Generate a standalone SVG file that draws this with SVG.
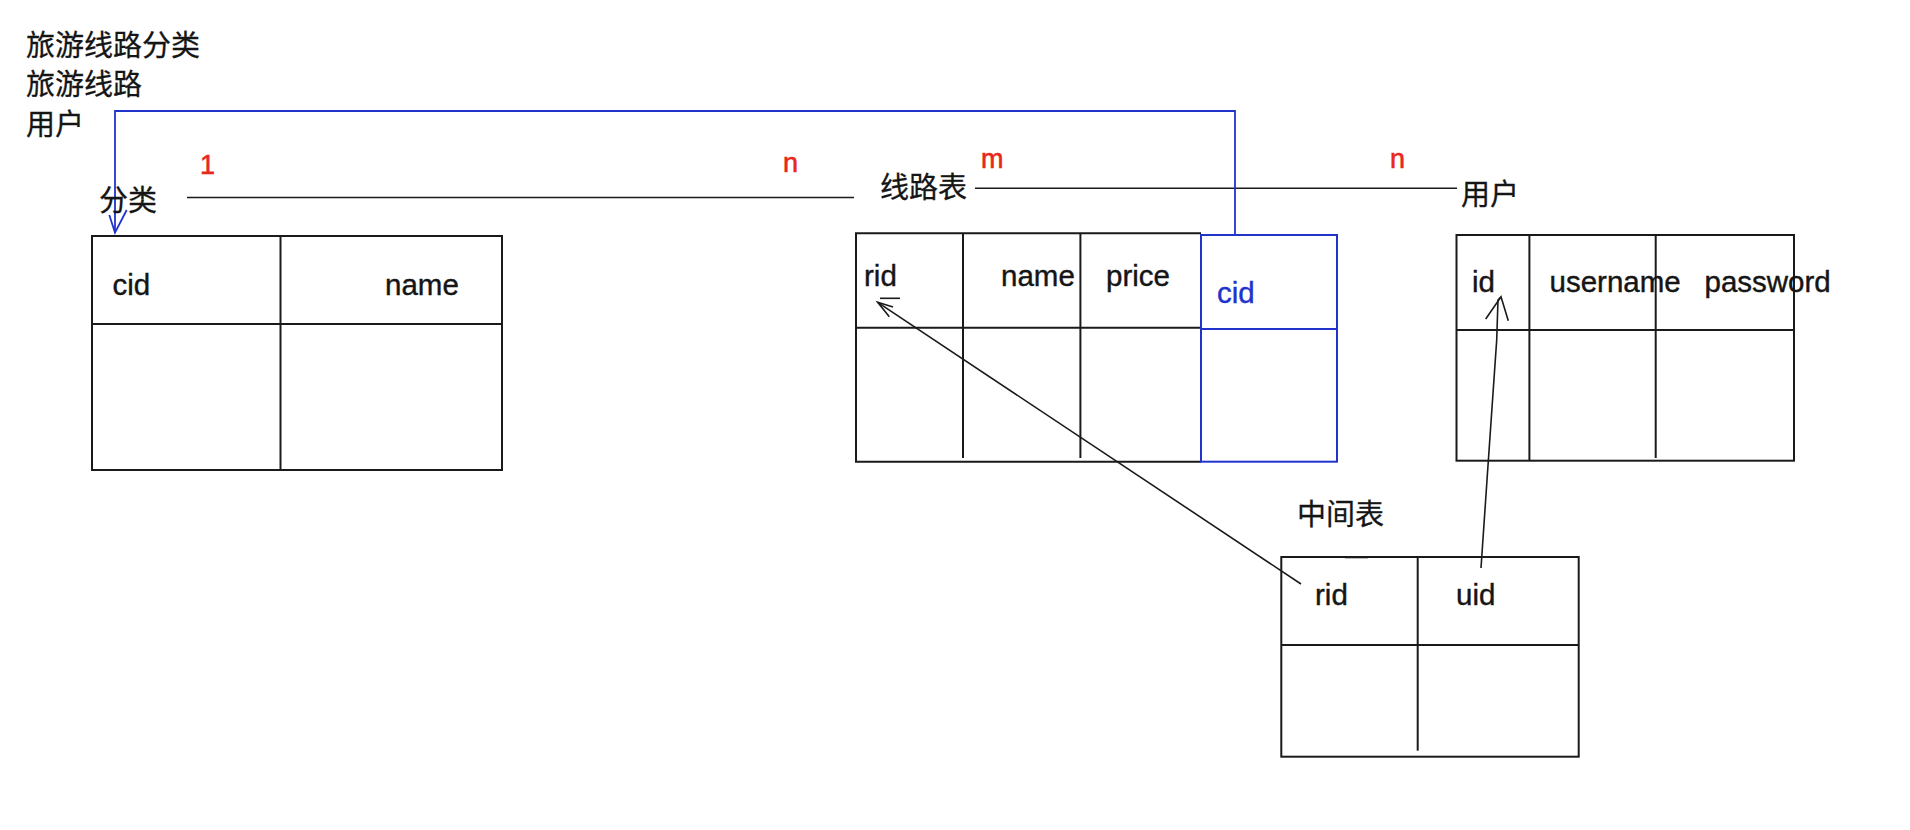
<svg xmlns="http://www.w3.org/2000/svg" width="1910" height="830" viewBox="0 0 1910 830">
<style>
  .cjk { font-family: "Noto Sans CJK SC", "Liberation Sans", sans-serif; font-size: 29px; fill: #151515; stroke: #151515; stroke-width: 0.3; }
  .lat { font-family: "Liberation Sans", Arial, sans-serif; font-size: 29.5px; fill: #151515; stroke: #151515; stroke-width: 0.4; }
  .red { font-family: "Liberation Sans", Arial, sans-serif; font-size: 27px; fill: #e8281a; stroke: #e8281a; stroke-width: 0.6; }
  .blueT { font-family: "Liberation Sans", Arial, sans-serif; font-size: 29.5px; fill: #2233cc; stroke: #2233cc; stroke-width: 0.4; }
  .tb { fill: none; stroke: #1a1a1a; stroke-width: 2; }
  .tbb { fill: none; stroke: #2233cc; stroke-width: 2; }
  .ln { fill: none; stroke: #1a1a1a; stroke-width: 1.6; }
  .bl { fill: none; stroke: #2233cc; stroke-width: 1.8; }
</style>
<rect width="1910" height="830" fill="#ffffff"/>

<g id="notes">
  <text class="cjk" x="26" y="56">旅游线路分类</text>
  <text class="cjk" x="26" y="94.5">旅游线路</text>
  <text class="cjk" x="26" y="134.5">用户</text>
</g>

<g id="connectors">
  <line class="ln" x1="187" y1="197.5" x2="854" y2="197.5"/>
  <line class="ln" x1="975" y1="188.3" x2="1457" y2="188.3"/>
  <polyline class="bl" points="1235,235 1235,111 115,111 115,232.7"/>
  <polyline class="bl" points="109.3,215 115,232.7 126.7,210"/>
  <line class="ln" x1="1301" y1="584" x2="877.7" y2="302.3"/>
  <polyline class="ln" points="889.3,316.7 877.7,302.3 893,307"/>
  <line class="ln" x1="880" y1="298.3" x2="900" y2="298.3"/>
  <polyline class="ln" points="1481,568 1487,480 1496.7,340 1498,300 1501,296.7"/>
  <polyline class="ln" points="1485.7,319 1501,296.7 1508.3,320.7"/>
</g>

<g id="cardinality">
  <text class="red" x="200" y="174">1</text>
  <text class="red" x="783" y="172">n</text>
  <text class="red" x="981" y="168">m</text>
  <text class="red" x="1390" y="168">n</text>
</g>

<g id="category">
  <text class="cjk" x="99" y="211">分类</text>
  <rect class="tb" x="92" y="236" width="410" height="234"/>
  <line class="tb" x1="280.5" y1="236" x2="280.5" y2="470"/>
  <line class="tb" x1="92" y1="324" x2="502" y2="324"/>
  <text class="lat" x="112.5" y="295">cid</text>
  <text class="lat" x="385" y="295">name</text>
</g>

<g id="route">
  <text class="cjk" x="880" y="198">线路表</text>
  <polyline class="tb" points="1201,233.3 856,233.3 856,461.7 1201,461.7"/>
  <line class="tb" x1="963" y1="233.3" x2="963" y2="458"/>
  <line class="tb" x1="1080.4" y1="233.3" x2="1080.4" y2="458"/>
  <line class="tb" x1="856" y1="327.7" x2="1201" y2="327.7"/>
  <rect class="tbb" x="1201" y="235" width="136" height="226.7"/>
  <line class="tbb" x1="1201" y1="329" x2="1337" y2="329"/>
  <text class="lat" x="864" y="285.5">rid</text>
  <text class="lat" x="1001" y="285.5">name</text>
  <text class="lat" x="1106" y="285.5">price</text>
  <text class="blueT" x="1217" y="302.5">cid</text>
</g>

<g id="user">
  <text class="cjk" x="1461" y="205">用户</text>
  <rect class="tb" x="1456.5" y="235" width="337.5" height="225.7"/>
  <line class="tb" x1="1529.4" y1="235" x2="1529.4" y2="460.7"/>
  <line class="tb" x1="1655.7" y1="235" x2="1655.7" y2="458"/>
  <line class="tb" x1="1456.5" y1="330" x2="1794" y2="330"/>
  <text class="lat" x="1472" y="291.5">id</text>
  <text class="lat" x="1549.5" y="291.5">username</text>
  <text class="lat" x="1704.5" y="291.5">password</text>
</g>

<g id="middle">
  <text class="cjk" x="1297" y="525">中间表</text>
  <line x1="1345" y1="558" x2="1368" y2="558" stroke="#bbbbbb" stroke-width="2"/>
  <rect class="tb" x="1281.3" y="557" width="297.4" height="199.7"/>
  <line class="tb" x1="1417.7" y1="557" x2="1417.7" y2="750.7"/>
  <line class="tb" x1="1281.3" y1="645" x2="1578.7" y2="645"/>
  <text class="lat" x="1315" y="605">rid</text>
  <text class="lat" x="1456" y="605">uid</text>
</g>
</svg>
